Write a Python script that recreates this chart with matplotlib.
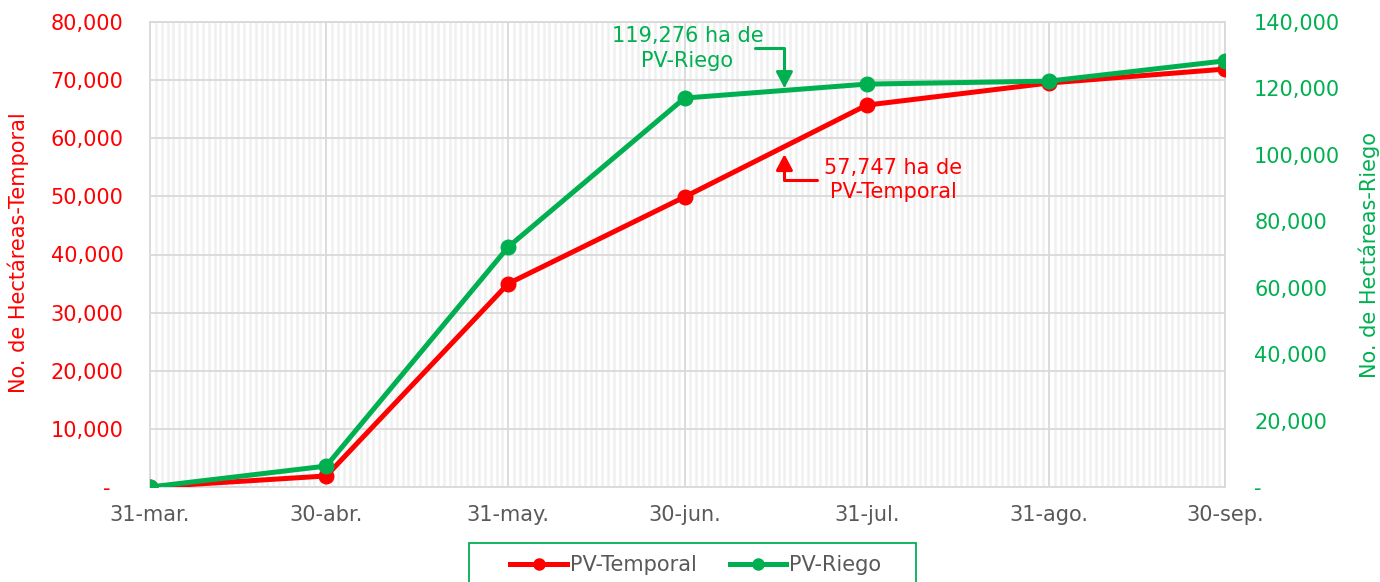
import matplotlib
matplotlib.use('Agg')
import matplotlib.pyplot as plt
import matplotlib.dates as mdates
import pandas as pd
from matplotlib.ticker import FuncFormatter, MultipleLocator, FixedLocator
from matplotlib.lines import Line2D
from matplotlib.patches import Rectangle

# ---- data ----
dates = ['2023-03-31', '2023-04-30', '2023-05-31', '2023-06-30',
         '2023-07-31', '2023-08-31', '2023-09-30']
tick_labels = ['31-mar.', '30-abr.', '31-may.', '30-jun.', '31-jul.', '31-ago.', '30-sep.']
temporal = [0, 1900, 35000, 49900, 65700, 69500, 71900]
riego = [0, 6300, 72300, 117100, 121300, 122200, 128300]
ann_date = '2023-07-17'
ann_riego = 119276
ann_temporal = 57747
label_temporal = 'PV-Temporal'
label_riego = 'PV-Riego'
ylabel_left = 'No. de Hectáreas-Temporal'
ylabel_right = 'No. de Hectáreas-Riego'

RED = '#FF0000'
GREEN = '#00B050'
GRAY = '#595959'

plt.rcParams['font.family'] = ['DejaVu Sans']

x = pd.to_datetime(dates)
xa = pd.Timestamp(ann_date)
xan = mdates.date2num(xa)

W, H = 1380, 582
fig = plt.figure(figsize=(W / 100, H / 100), dpi=100)
ax = fig.add_axes([150 / W, 1 - 487 / H, (1225 - 150) / W, (487 - 22) / H])

ax.set_xlim(x[0], x[-1])
ax.set_ylim(0, 80000)
ax.xaxis.set_major_locator(FixedLocator(mdates.date2num(x)))
ax.set_xticklabels(tick_labels)
ax.xaxis.set_minor_locator(mdates.DayLocator())
ax.yaxis.set_major_locator(MultipleLocator(10000))

ax.grid(which='minor', axis='x', color='#f0f0f0', lw=1.8, zorder=0)
ax.grid(which='major', axis='x', color='#d9d9d9', lw=1.3, zorder=0)
ax.grid(which='major', axis='y', color='#d9d9d9', lw=1.3, zorder=0)
ax.set_axisbelow(True)
for s in ax.spines.values():
    s.set_color('#d9d9d9')
    s.set_linewidth(1.3)

ax.yaxis.set_major_formatter(FuncFormatter(lambda v, p: '-  ' if v == 0 else f'{v:,.0f}'))
ax.tick_params(axis='y', which='both', length=0, pad=19, labelsize=15, labelcolor=RED)
ax.tick_params(axis='x', which='both', length=0, pad=13, labelsize=15, labelcolor=GRAY)

ax.plot(x, temporal, color=RED, lw=3.6, marker='o', ms=10.5, zorder=3)
ax.set_ylabel(ylabel_left, color=RED, fontsize=15)
ax.yaxis.set_label_coords(-0.1126, 0.505)

ax2 = ax.twinx()
ax2.set_ylim(0, 140000)
ax2.yaxis.set_major_locator(MultipleLocator(20000))
ax2.yaxis.set_major_formatter(FuncFormatter(lambda v, p: '-' if v == 0 else f'{v:,.0f}'))
ax2.tick_params(axis='y', length=0, pad=21, labelsize=15, labelcolor=GREEN)
for s in ax2.spines.values():
    s.set_visible(False)
ax2.plot(x, riego, color=GREEN, lw=3.6, marker='o', ms=10.5, zorder=3)
ax2.set_ylabel(ylabel_right, color=GREEN, fontsize=15)
ax2.yaxis.set_label_coords(1.124, 0.5)

# ---- annotations ----
head = '-|>,head_length=0.95,head_width=0.5'
ax2.annotate('', xy=(xa, ann_riego), xytext=(xan - 5, 132300),
             arrowprops=dict(arrowstyle=head, color=GREEN, lw=2.2,
                             shrinkA=0, shrinkB=2,
                             connectionstyle='angle,angleA=0,angleB=90,rad=0'))
ax2.text(mdates.date2num(x[3]) + 0.5, 132000, f'{ann_riego:,} ha de\n{label_riego}',
         color=GREEN, fontsize=15, ha='center', va='center', linespacing=1.3)

ax.annotate('', xy=(xa, ann_temporal), xytext=(xan + 5.5, 52800),
            arrowprops=dict(arrowstyle=head, color=RED, lw=2.2,
                            shrinkA=0, shrinkB=2,
                            connectionstyle='angle,angleA=0,angleB=90,rad=0'))
ax.text(mdates.date2num(x[4]) + 4.5, 52800, f'{ann_temporal:,} ha de\n{label_temporal}',
        color=RED, fontsize=15, ha='center', va='center', linespacing=1.3)

# ---- legend ----
handles = [Line2D([], [], color=RED, lw=3.6, marker='o', ms=8),
           Line2D([], [], color=GREEN, lw=3.6, marker='o', ms=8)]
leg = fig.legend(handles, [label_temporal, label_riego], loc='center',
                 bbox_to_anchor=(696 / W, 1 - 565 / H), ncol=2, fontsize=15,
                 frameon=False, handlelength=2.7,
                 columnspacing=1.6, handletextpad=0.15, borderpad=0.2, borderaxespad=0)
for t in leg.get_texts():
    t.set_color(GRAY)
fig.patches.append(Rectangle((469 / W, -0.05), (916 - 469) / W, (1 - 543 / H) + 0.05,
                             transform=fig.transFigure, fill=False,
                             edgecolor=GREEN, lw=1.3))

fig.savefig('out.png', dpi=100)
